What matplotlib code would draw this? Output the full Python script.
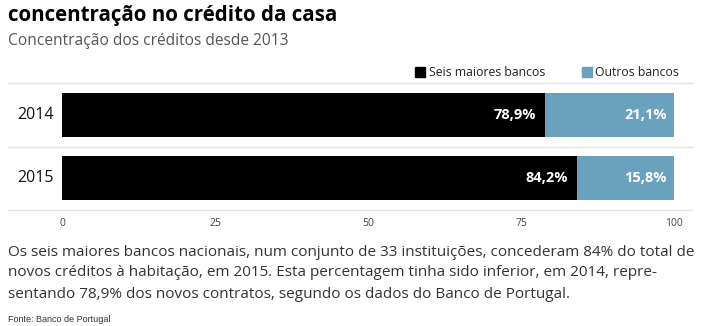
import matplotlib
matplotlib.use("Agg")
import matplotlib.pyplot as plt
from matplotlib.lines import Line2D
from matplotlib.patches import Rectangle

years = ["2014", "2015"]
seis = [78.9, 84.2]
outros = [21.1, 15.8]
labels_seis = ["78,9%", "84,2%"]
labels_outros = ["21,1%", "15,8%"]
xticks = [0, 25, 50, 75, 100]
series_names = ["Seis maiores bancos", "Outros bancos"]

BLUE = "#6aa2bd"
W, H = 712, 326
fig = plt.figure(figsize=(W / 100, H / 100), dpi=100)
plt.rcParams['font.family'] = ['Open Sans', 'DejaVu Sans']

def fx(px):
    return px / W

def fy(py):
    return 1 - py / H

ax = fig.add_axes([fx(62), fy(210), fx(674) - fx(62), fy(83) - fy(210)])
ypos = list(range(len(years)))
ax.barh(ypos, seis, height=0.69, color="black")
ax.barh(ypos, outros, left=seis, height=0.69, color=BLUE)
ax.set_xlim(0, 100)
ax.set_ylim(len(years) - 0.5, -0.5)
for s in ax.spines.values():
    s.set_visible(False)
ax.set_yticks([])
ax.set_xticks(xticks)
ax.set_xticklabels([str(t) for t in xticks], fontsize=7.5, color="#444444")
ax.tick_params(axis="x", length=0, pad=6)

for i, y in enumerate(years):
    ax.text(-4.3, i, y, ha="center", va="center", fontsize=11.5, color="#111111")
    ax.text(seis[i] - 1.5, i, labels_seis[i], ha="right", va="center",
            fontsize=10.5, fontweight="bold", color="white")
    ax.text(100 - 1.2, i, labels_outros[i], ha="right", va="center",
            fontsize=10.5, fontweight="bold", color="white")

# separator lines
for py in [83, 147, 210]:
    fig.add_artist(Line2D([fx(8), fx(692)], [fy(py), fy(py)], color="#e3e3e3", lw=1))

# title / subtitle
fig.text(fx(8), fy(15.5), "concentração no crédito da casa", fontsize=14.8,
         fontweight="bold", color="black", va="center", ha="left")
fig.text(fx(8), fy(41), "Concentração dos créditos desde 2013", fontsize=11.2,
         color="#555555", va="center", ha="left")

# legend
fig.add_artist(Rectangle((fx(415), fy(77)), fx(10), fy(67) - fy(77), color="black"))
fig.text(fx(429), fy(72), series_names[0], fontsize=8.8, color="#222222", va="center")
fig.add_artist(Rectangle((fx(582), fy(77)), fx(10), fy(67) - fy(77), color=BLUE))
fig.text(fx(595), fy(72), series_names[1], fontsize=8.8, color="#222222", va="center")

body = ["Os seis maiores bancos nacionais, num conjunto de 33 instituições, concederam 84% do total de",
        "novos créditos à habitação, em 2015. Esta percentagem tinha sido inferior, em 2014, repre-",
        "sentando 78,9% dos novos contratos, segundo os dados do Banco de Portugal."]
for k, line in enumerate(body):
    fig.text(fx(8), fy(252 + 21 * k), line, fontsize=11, color="#333333",
             va="center", ha="left")

fig.text(fx(8), fy(320), "Fonte: Banco de Portugal", fontsize=6.5, color="#333333",
         va="center", ha="left", family="Liberation Sans")

fig.savefig("out.png", dpi=100, facecolor="white")
